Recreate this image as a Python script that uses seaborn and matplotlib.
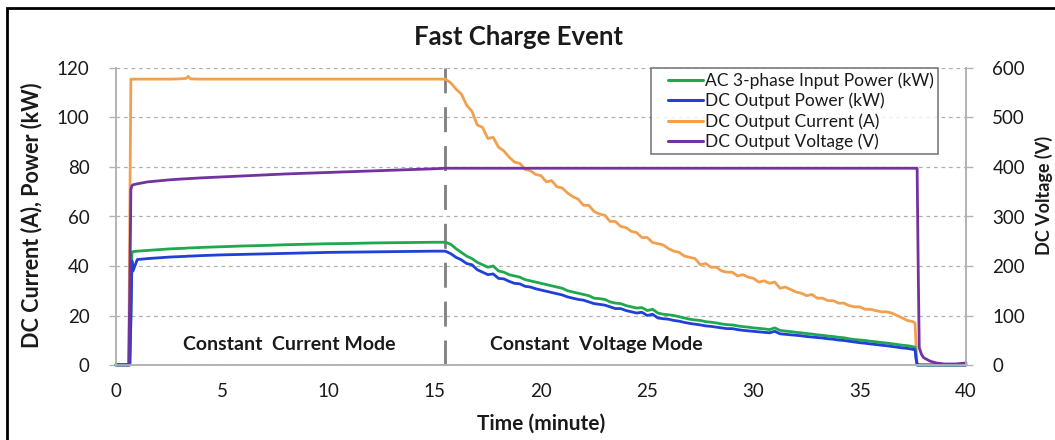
import numpy as np
import pandas as pd
import matplotlib
matplotlib.use("Agg")
import matplotlib.pyplot as plt
from matplotlib.lines import Line2D
from matplotlib.patches import Rectangle
from matplotlib.legend_handler import HandlerLine2D
import seaborn as sns

# ---------------- data ----------------
time_min = [
    0, 0.6, 0.65, 0.7, 0.75, 0.8, 1.0, 1.5, 2.0, 2.5, 3.0, 3.3, 3.4, 3.5, 4, 5, 6, 7, 8, 9, 10, 11, 12, 13, 14, 15, 15.5,
    15.75, 16.0, 16.25, 16.5, 16.75, 17.0, 17.25, 17.5, 17.75, 18.0, 18.25, 18.5, 18.75, 19.0, 19.25, 19.5, 19.75,
    20.0, 20.25, 20.5, 20.75, 21.0, 21.25, 21.5, 21.75, 22.0, 22.25, 22.5, 22.75, 23.0, 23.25, 23.5, 23.75,
    24.0, 24.25, 24.5, 24.75, 25.0, 25.25, 25.5, 25.75, 26.0, 26.25, 26.5, 26.75, 27.0, 27.25, 27.5, 27.75,
    28.0, 28.25, 28.5, 28.75, 29.0, 29.25, 29.5, 29.75, 30.0, 30.25, 30.5, 30.75, 31.0, 31.25, 31.5, 31.75,
    32.0, 32.25, 32.5, 32.75, 33.0, 33.25, 33.5, 33.75, 34.0, 34.25, 34.5, 34.75, 35.0, 35.25, 35.5, 35.75,
    36.0, 36.25, 36.5, 36.75, 37.0, 37.25, 37.5,
    37.6, 37.65, 37.7, 37.75, 37.8, 37.9, 38.0, 38.3, 38.6, 39.0, 39.5, 40.0,
]

dc_current_a = [
    0, 0, 60, 115.5, 115.5, 115.5, 115.5, 115.5, 115.5, 115.5, 115.6, 115.8, 116.6, 115.6, 115.5, 115.5, 115.5,
    115.5, 115.5, 115.5, 115.5, 115.5, 115.5, 115.5, 115.5, 115.5, 115.5,
    114.0, 111.5, 109.5, 105.0, 102.5, 97.0, 96.0, 91.5, 92.0, 88.0, 86.5, 84.0, 82.0, 81.5, 79.0, 78.5, 77.0,
    76.5, 74.0, 74.5, 72.0, 71.5, 69.5, 68.0, 67.0, 64.5, 64.5, 62.0, 61.0, 60.5, 58.0, 58.0, 56.0,
    55.5, 54.0, 53.5, 51.5, 51.5, 49.5, 49.0, 48.5, 47.0, 46.0, 45.5, 44.0, 43.5, 43.0, 40.5, 41.0,
    39.5, 39.5, 38.0, 37.5, 37.5, 36.0, 36.5, 35.5, 35.0, 33.5, 34.0, 33.0, 33.5, 31.0, 31.5, 30.5,
    29.5, 29.0, 28.0, 28.5, 27.0, 27.0, 26.0, 26.0, 25.0, 25.0, 24.0, 23.5, 23.5, 22.5, 22.5, 22.0,
    21.5, 21.5, 21.0, 20.0, 19.0, 18.0, 17.5,
    17.0, 8.0, 0, 0, 0, 0, 0, 0, 0, 0, 0, 0,
]

ac_input_power_kw = [
    0, 0, 0, 20, 45.5, 45.8, 46.0, 46.3, 46.6, 46.9, 47.1, 47.2, 47.3, 47.3, 47.5, 47.8, 48.1, 48.3, 48.6, 48.8,
    49.0, 49.1, 49.3, 49.4, 49.5, 49.6, 49.6,
    48.8, 47.0, 45.5, 44.0, 43.0, 41.5, 40.5, 39.5, 40.0, 38.0, 37.5, 36.5, 36.0, 35.5, 34.5, 34.0, 33.5,
    33.0, 32.5, 32.0, 31.5, 31.0, 30.0, 29.5, 29.0, 28.5, 28.0, 27.0, 26.8, 26.5, 25.5, 25.0, 24.8,
    24.0, 23.5, 23.0, 23.2, 22.0, 22.5, 21.0, 20.5, 20.3, 20.0, 19.5, 19.0, 18.5, 18.2, 18.0, 17.5,
    17.3, 17.0, 16.6, 16.3, 16.2, 15.8, 15.5, 15.3, 15.0, 14.8, 14.6, 14.3, 15.0, 14.0, 13.7, 13.5,
    13.2, 13.0, 12.7, 12.5, 12.2, 12.0, 11.7, 11.5, 11.2, 11.0, 10.6, 10.3, 10.1, 9.9, 9.6, 9.4,
    9.1, 8.9, 8.6, 8.3, 8.0, 7.8, 7.4,
    7.2, 3.0, 0, 0, 0, 0, 0, 0, 0, 0, 0, 0,
]

dc_output_power_kw = [
    0, 0, 0, 18, 42.0, 38.0, 42.6, 43.0, 43.3, 43.6, 43.8, 43.9, 44.0, 44.0, 44.2, 44.5, 44.7, 44.9, 45.1, 45.3,
    45.5, 45.6, 45.7, 45.8, 45.9, 46.0, 46.0,
    45.0, 43.5, 42.5, 41.0, 40.5, 38.5, 37.5, 36.5, 36.8, 35.0, 34.8, 33.8, 33.0, 32.8, 31.8, 31.5, 30.8,
    30.3, 29.8, 29.3, 28.8, 28.3, 27.5, 27.0, 26.5, 26.2, 25.5, 24.8, 24.5, 24.2, 23.5, 22.8, 22.8,
    22.0, 21.5, 21.0, 21.3, 20.0, 20.5, 19.0, 18.7, 18.5, 18.0, 17.7, 17.2, 16.8, 16.5, 16.2, 15.8,
    15.6, 15.3, 15.0, 14.7, 14.7, 14.3, 14.0, 13.8, 13.6, 13.4, 13.2, 13.0, 13.6, 12.6, 12.4, 12.2,
    12.0, 11.8, 11.5, 11.3, 11.1, 10.9, 10.6, 10.4, 10.1, 9.9, 9.6, 9.3, 9.0, 8.8, 8.5, 8.3,
    8.0, 7.8, 7.5, 7.2, 6.9, 6.7, 6.3,
    6.2, 2.5, 0, 0, 0, 0, 0, 0, 0, 0, 0, 0,
]

voltage_time_min = [0, 0.6, 0.65, 0.7, 0.75, 0.8, 1.0, 1.5, 2, 2.5, 3, 4, 5, 6, 7, 8, 9, 10, 11, 12, 13, 14, 15,
                    15.5, 16, 20, 25, 30, 35, 37.7, 37.75, 37.8, 37.9, 38.0, 38.3, 38.6, 39, 39.5, 40]
dc_voltage_v = [1, 1, 150, 355, 362, 364, 366, 370, 372, 374, 375.5, 378, 380, 382, 384, 386, 387.5, 389, 390.5,
                392, 393.5, 395, 396.5, 397.5, 397.5, 397.5, 397.5, 397.5, 397.5, 397.5, 200, 35, 22, 15, 8, 4,
                2, 2, 4]

series_names = ["AC 3-phase Input Power (kW)", "DC Output Power (kW)",
                "DC Output Current (A)", "DC Output Voltage (V)"]
series_colors = ["#1fa84f", "#2040d8", "#f2a04e", "#7232a0"]
x_ticks = [0, 5, 10, 15, 20, 25, 30, 35, 40]
left_ticks = [0, 20, 40, 60, 80, 100, 120]
right_ticks = [0, 100, 200, 300, 400, 500, 600]
mode_switch_min = 15.5

assert len(time_min) == len(dc_current_a) == len(ac_input_power_kw) == len(dc_output_power_kw)
assert len(voltage_time_min) == len(dc_voltage_v)

df = pd.concat([
    pd.DataFrame({"t": time_min, "v": ac_input_power_kw, "s": series_names[0]}),
    pd.DataFrame({"t": time_min, "v": dc_output_power_kw, "s": series_names[1]}),
    pd.DataFrame({"t": time_min, "v": dc_current_a, "s": series_names[2]}),
])
dfv = pd.DataFrame({"t": voltage_time_min, "v": dc_voltage_v, "s": series_names[3]})

# ---------------- style ----------------
sns.set_theme(style="white")
plt.rcParams["font.family"] = ["Lato", "DejaVu Sans"]
TXT = "#1a1a1a"

fig = plt.figure(figsize=(10.55, 4.4), dpi=100)
ax = fig.add_axes([116 / 1055, 75 / 440, 850 / 1055, 297 / 440])
ax2 = ax.twinx()

for name, col in [(series_names[2], series_colors[2]),
                  (series_names[0], series_colors[0]),
                  (series_names[1], series_colors[1])]:
    sns.lineplot(data=df[df["s"] == name], x="t", y="v", ax=ax, color=col, lw=2.0,
                 estimator=None, sort=False, legend=False)
sns.lineplot(data=dfv, x="t", y="v", ax=ax2, color=series_colors[3], lw=2.0,
             estimator=None, sort=False, legend=False)
for a in (ax, ax2):
    for ln in a.get_lines():
        ln.set_clip_on(False)

ax.axvline(mode_switch_min, ymin=0, ymax=1, color="#7f7f7f", lw=2.0, dashes=(9, 5), zorder=1)

ax.set_xlim(0, 40)
ax.set_ylim(0, 120)
ax2.set_ylim(0, 600)
ax.set_xticks(x_ticks)
ax.set_yticks(left_ticks)
ax2.set_yticks(right_ticks)

ax.yaxis.grid(True, color="#b0b0b0", ls=(0, (3, 3)), lw=0.9)
ax.xaxis.grid(False)
ax2.grid(False)
ax.set_axisbelow(True)

for a in (ax, ax2):
    a.spines["top"].set_visible(False)
    for side in ("left", "right", "bottom"):
        a.spines[side].set_color("#b3b3b3")
        a.spines[side].set_linewidth(1.2)
    a.tick_params(axis="both", which="major", length=5, width=1, color="#b3b3b3",
                  labelsize=13.5, labelcolor=TXT, direction="out")
ax.tick_params(axis="x", pad=8)
ax.tick_params(axis="y", pad=14)
ax2.tick_params(axis="y", pad=14)

ax.set_xlabel("Time (minute)", fontsize=15, fontweight="bold", color=TXT)
ax.xaxis.set_label_coords((541 - 116) / 850, -(414 - 365) / 297)
ax.set_ylabel("DC Current (A), Power (kW)", fontsize=15.5, fontweight="bold", color=TXT)
ax.yaxis.set_label_coords(-(116 - 42) / 850, (365 - 215) / 297)
ax2.set_ylabel("DC Voltage (V)", fontsize=13, fontweight="bold", color=TXT)
ax2.yaxis.set_label_coords((1035 - 116) / 850, (365 - 195) / 297)

ax.text(8.15, 8.2, "Constant  Current Mode", fontsize=14, fontweight="bold", color=TXT,
        ha="center", va="center")
ax.text(22.6, 8.2, "Constant  Voltage Mode", fontsize=14, fontweight="bold", color=TXT,
        ha="center", va="center")

fig.text(519 / 1055, 1 - 37 / 440, "Fast Charge Event", fontsize=18.5, fontweight="bold",
         color=TXT, ha="center", va="center")

handles = [Line2D([0], [0], color=c, lw=2.2) for c in series_colors]
leg = ax2.legend(handles, series_names, loc="upper right", bbox_to_anchor=(0.967, 1.0),
                 fontsize=12.5, frameon=True, fancybox=False, edgecolor="#5a5a5a",
                 handlelength=2.75, handletextpad=0.1, borderpad=0.25, labelspacing=0.22,
                 borderaxespad=0.0, handler_map={Line2D: HandlerLine2D(xpad=0.75)})
leg.get_frame().set_linewidth(1.2)
for t in leg.get_texts():
    t.set_color(TXT)
leg.set_zorder(10)

fig.add_artist(Rectangle((7 / 1055, -0.05), 1.2, 1.05 - 8 / 440, transform=fig.transFigure,
                         fill=False, edgecolor="black", lw=2.0, clip_on=False))

fig.savefig("out.png", dpi=100)
